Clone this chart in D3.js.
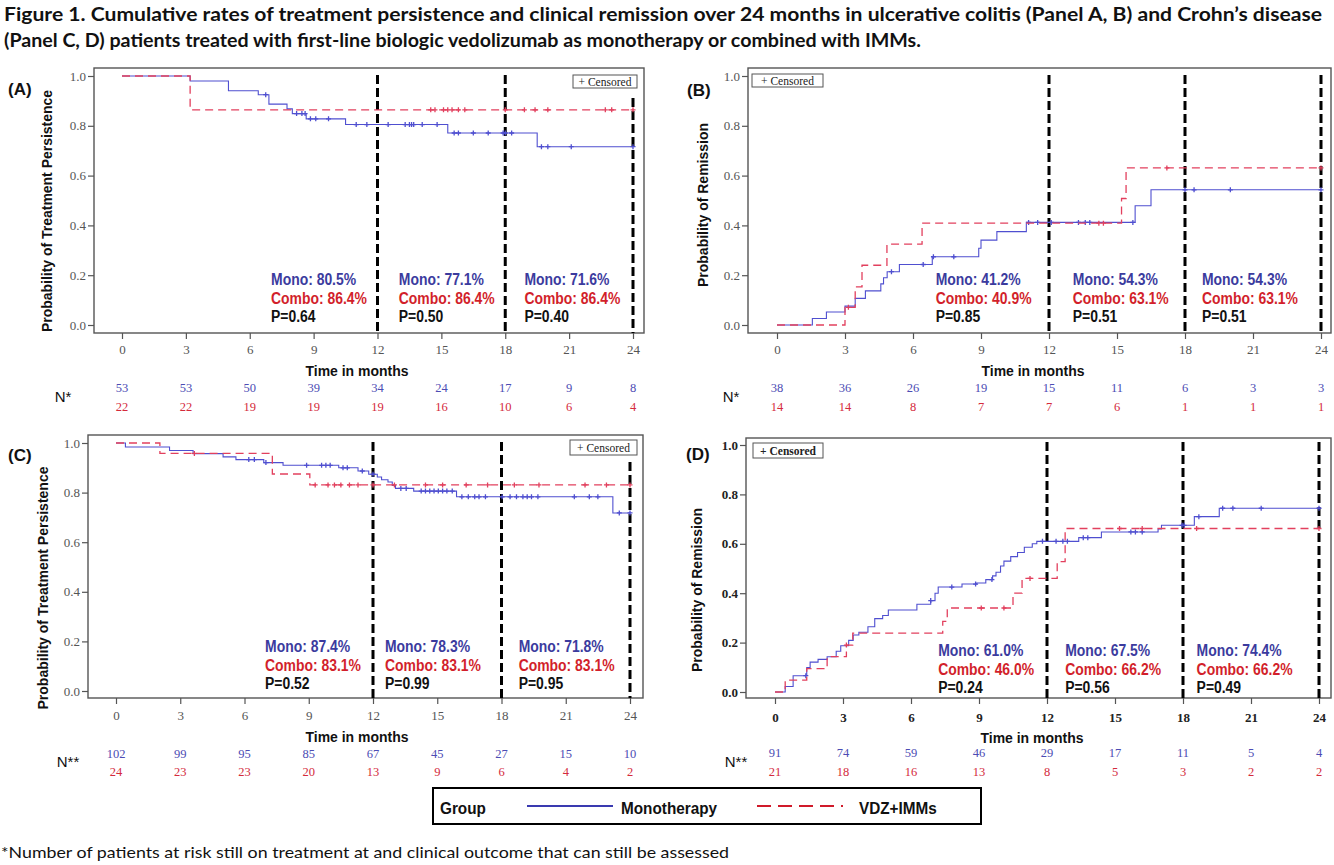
<!DOCTYPE html>
<html><head><meta charset="utf-8">
<script src="https://cdn.jsdelivr.net/npm/d3@7"></script>
<style>body{margin:0;background:#fff} svg{display:block}</style>
</head><body>
<svg id="chart" width="1334" height="865"></svg>
<script>
// ---------------- DATA ----------------
const months = [0, 3, 6, 9, 12, 15, 18, 21, 24];
const probTicks = [0, 0.2, 0.4, 0.6, 0.8, 1.0];
const landmarks = [12, 18, 24];
const groupNames = ["Monotherapy", "VDZ+IMMs"];
const titleLines = [
  "Figure 1. Cumulative rates of treatment persistence and clinical remission over 24 months in ulcerative colitis (Panel A, B) and Crohn\u2019s disease",
  "(Panel C, D) patients treated with first-line biologic vedolizumab as monotherapy or combined with IMMs."
];
const footnote = "*Number of patients at risk still on treatment at and clinical outcome that can still be assessed";

// Panel A – UC persistence
const aMonoSteps = [[0,1],[3.2,0.98],[5.0,0.941],[6.4,0.925],[6.9,0.887],[7.75,0.868],[8.0,0.849],[8.65,0.828],[10.5,0.805],[15.3,0.771],[19.5,0.716]];
const aMonoCensor = [6.75,8.2,8.45,8.6,8.85,9.1,9.7,11.0,11.5,12.5,13.3,13.5,13.6,13.7,14.1,14.8,15.6,15.8,16.5,17.2,17.9,18.0,18.3,19.7,20.0,21.1,24.0];
const aComboSteps = [[0,1],[3.2,0.864]];
const aComboCensor = [14.5,14.7,15.1,15.3,15.5,15.8,16.1,18.0,18.9,19.4,20.0,22.7,23.0,24.0];
const aRiskMono = [53,53,50,39,34,24,17,9,8];
const aRiskCombo = [22,22,19,19,19,16,10,6,4];
const aMonoPct = ["80.5%","77.1%","71.6%"];
const aComboPct = ["86.4%","86.4%","86.4%"];
const aP = ["0.64","0.50","0.40"];

// Panel B – UC remission
const bMonoSteps = [[0,0],[1.56,0.026],[2.18,0.052],[3.0,0.076],[3.45,0.107],[3.9,0.137],[4.58,0.165],[4.7,0.19],[4.86,0.214],[5.4,0.243],[6.85,0.274],[8.9,0.308],[9.0,0.341],[9.7,0.375],[11.0,0.412],[15.8,0.479],[16.5,0.543]];
const bMonoCensor = [5.05,6.45,6.9,7.8,11.1,11.5,12.1,13.3,13.6,13.8,15.7,18.0,18.4,20.0,24.0];
const bComboSteps = [[0,0],[3.0,0.071],[3.45,0.153],[3.75,0.24],[4.85,0.325],[6.4,0.409],[15.2,0.508],[15.4,0.631]];
const bComboCensor = [3.15,14.2,14.4,17.2,24.0];
const bRiskMono = [38,36,26,19,15,11,6,3,3];
const bRiskCombo = [14,14,8,7,7,6,1,1,1];
const bMonoPct = ["41.2%","54.3%","54.3%"];
const bComboPct = ["40.9%","63.1%","63.1%"];
const bP = ["0.85","0.51","0.51"];

// Panel C – CD persistence
const cMonoSteps = [[0,1],[0.44,0.984],[2.5,0.970],[3.6,0.957],[5.0,0.944],[5.6,0.933],[6.9,0.921],[7.8,0.91],[10.4,0.90],[11.3,0.887],[11.8,0.874],[12.2,0.863],[12.4,0.852],[12.7,0.843],[12.9,0.829],[13.05,0.817],[13.9,0.806],[15.9,0.783],[23.2,0.718]];
const cMonoCensor = [6.2,6.46,7.0,8.9,9.6,9.8,10.0,10.6,10.8,11.5,12.0,13.3,13.55,14.25,14.45,14.65,14.85,15.05,15.25,15.45,15.7,16.15,16.45,16.75,16.95,17.25,18.03,18.4,18.7,19.0,19.2,19.4,19.7,21.4,22.1,22.5,23.5,24.0];
const cComboSteps = [[0,1],[2.05,0.958],[7.3,0.875],[9.05,0.831]];
const cComboCensor = [3.66,9.3,9.9,10.2,10.5,10.9,11.3,12.0,13.0,14.45,15.25,16.35,17.35,18.6,19.75,21.9,22.9,24.0];
const cRiskMono = [102,99,95,85,67,45,27,15,10];
const cRiskCombo = [24,23,23,20,13,9,6,4,2];
const cMonoPct = ["87.4%","78.3%","71.8%"];
const cComboPct = ["83.1%","83.1%","83.1%"];
const cP = ["0.52","0.99","0.95"];

// Panel D – CD remission
const dMonoSteps = [[0,0],[0.45,0.022],[0.8,0.066],[1.4,0.099],[1.55,0.121],[1.9,0.132],[2.3,0.143],[2.7,0.165],[2.9,0.187],[3.25,0.209],[3.45,0.231],[3.7,0.242],[4.1,0.264],[4.4,0.297],[4.75,0.31],[5.0,0.332],[6.26,0.355],[6.87,0.37],[7.06,0.40],[7.2,0.425],[8.25,0.437],[8.9,0.441],[9.3,0.455],[9.6,0.47],[9.75,0.485],[9.95,0.51],[10.1,0.53],[10.4,0.548],[10.7,0.565],[11.0,0.586],[11.35,0.6],[11.55,0.61],[13.4,0.625],[14.4,0.648],[16.9,0.66],[17.05,0.675],[18.5,0.71],[19.6,0.744]];
const dMonoCensor = [1.36,6.87,7.8,8.85,9.57,11.8,12.4,12.7,12.9,13.6,13.8,15.7,15.9,16.2,17.96,18.05,18.7,19.75,20.2,21.45,24.0];
const dComboSteps = [[0,0],[0.45,0.048],[1.4,0.095],[2.3,0.143],[3.15,0.19],[3.43,0.238],[7.4,0.286],[7.6,0.34],[10.5,0.40],[10.9,0.46],[12.45,0.528],[12.8,0.662]];
const dComboCensor = [3.15,9.1,10.1,11.25,15.2,16.2,18.6,24.0];
const dRiskMono = [91,74,59,46,29,17,11,5,4];
const dRiskCombo = [21,18,16,13,8,5,3,2,2];
const dMonoPct = ["61.0%","67.5%","74.4%"];
const dComboPct = ["46.0%","66.2%","66.2%"];
const dP = ["0.24","0.56","0.49"];

// ---------------- STYLE ----------------
const lineBlue = "#4f4fd0", lineRed = "#e2405e";
const txtBlue = "#3b3b9e", txtRed = "#d21f2b";
const riskBlue = "#4c4cb4", riskRed = "#d42a3c";
const SANS = "'Liberation Sans', Arial, sans-serif";
const SERIF = "'Liberation Serif', 'Times New Roman', serif";
const TITLEF = "Lato, 'Open Sans', sans-serif";

const svg = d3.select("#chart");

function squeeze(sel, f) {
  sel.each(function () {
    const L = this.getComputedTextLength();
    this.setAttribute("textLength", L * f);
    this.setAttribute("lengthAdjust", "spacingAndGlyphs");
  });
}
function fitLen(sel, w) {
  sel.attr("textLength", w).attr("lengthAdjust", "spacingAndGlyphs");
}
function stepValue(steps, t) {
  let v = steps[0][1];
  for (const s of steps) if (s[0] <= t) v = s[1];
  return v;
}

// ---------------- TITLE ----------------
const t1 = svg.append("text").attr("x", 4).attr("y", 21).text(titleLines[0])
  .attr("font-family", TITLEF).attr("font-weight", 700)
  .attr("font-size", 18).attr("fill", "#111");
const t2 = svg.append("text").attr("x", 4).attr("y", 47).text(titleLines[1])
  .attr("font-family", TITLEF).attr("font-weight", 700)
  .attr("font-size", 18).attr("fill", "#111");
const titleScale = 1318 / t1.node().getComputedTextLength();
t2.call(fitLen, t2.node().getComputedTextLength() * titleScale * 0.93);
t1.call(fitLen, 1318);

// ---------------- PANELS ----------------
function drawPanel(p) {
  const g = svg.append("g");
  const x = d3.scaleLinear().domain([0, 24]).range([p.xr0, p.xr1]);
  const y = d3.scaleLinear().domain([0, 1]).range([p.yBot, p.yTop]);
  const tickFont = p.bold ? "bold" : "normal";
  const tickFill = p.bold ? "#222" : "#555";

  // frame
  g.append("rect").attr("x", p.fx0).attr("y", p.fy0)
    .attr("width", p.fx1 - p.fx0).attr("height", p.fy1 - p.fy0)
    .attr("fill", "none").attr("stroke", "#555").attr("stroke-width", 1.4);

  // y axis
  const ya = g.append("g").attr("transform", `translate(${p.fx0},0)`)
    .call(d3.axisLeft(y).tickValues(probTicks).tickFormat(d3.format(".1f")).tickSize(6).tickPadding(2));
  ya.select(".domain").remove();
  ya.selectAll("line").attr("stroke", "#555").attr("stroke-width", 1.2);
  ya.selectAll("text").attr("font-family", SERIF).attr("font-size", 13)
    .attr("font-weight", tickFont).attr("fill", tickFill);

  // x axis
  const xa = g.append("g").attr("transform", `translate(0,${p.fy1})`)
    .call(d3.axisBottom(x).tickValues(months).tickSize(6).tickPadding(p.tickPad));
  xa.select(".domain").remove();
  xa.selectAll("line").attr("stroke", "#555").attr("stroke-width", 1.2);
  xa.selectAll("text").attr("font-family", SERIF).attr("font-size", 13)
    .attr("font-weight", tickFont).attr("fill", tickFill);

  // landmark dashed lines
  g.selectAll(".lm").data(landmarks).join("line")
    .attr("x1", d => x(d)).attr("x2", d => x(d))
    .attr("y1", d => d === 24 ? p.vTop24 : p.vTop).attr("y2", p.fy1)
    .attr("stroke", "#000").attr("stroke-width", 3).attr("stroke-dasharray", "9,4");

  // curves
  const line = d3.line().x(d => x(d[0])).y(d => y(d[1])).curve(d3.curveStepAfter);
  const series = [
    { steps: p.mono, cens: p.monoC, color: lineBlue, dash: null, w: 1.1 },
    { steps: p.combo, cens: p.comboC, color: lineRed, dash: "8,5", w: 1.3 }
  ];
  series.forEach(s => {
    const pts = s.steps.concat([[24, s.steps[s.steps.length - 1][1]]]);
    g.append("path").datum(pts).attr("d", line).attr("fill", "none")
      .attr("stroke", s.color).attr("stroke-width", s.w)
      .attr("stroke-dasharray", s.dash);
    g.selectAll(null).data(s.cens).join("path")
      .attr("d", t => {
        const cx = x(t), cy = y(stepValue(s.steps, t));
        return `M${cx - 2.5},${cy}H${cx + 2.5}M${cx},${cy - 2.5}V${cy + 2.5}`;
      })
      .attr("stroke", s.color).attr("stroke-width", 1.3);
  });

  // censored legend box
  g.append("rect").attr("x", p.cb[0]).attr("y", p.cb[1]).attr("width", p.cb[2]).attr("height", p.cb[3])
    .attr("fill", "#fff").attr("stroke", "#555").attr("stroke-width", 1);
  g.append("text").attr("x", p.cb[0] + p.cb[2] / 2).attr("y", p.cb[1] + p.cb[3] / 2 + 4)
    .attr("text-anchor", "middle").attr("font-family", SERIF).attr("font-size", 11.5)
    .attr("font-weight", tickFont).attr("fill", "#222").text("+ Censored");

  // annotations
  [0, 1, 2].forEach(i => {
    const ax = x(p.annT[i]);
    g.append("text").attr("x", ax).attr("y", p.annY + 6).text("Mono: " + p.monoPct[i])
      .attr("font-family", SANS).attr("font-weight", "bold").attr("font-size", 16).attr("fill", txtBlue).call(squeeze, 0.87);
    g.append("text").attr("x", ax).attr("y", p.annY + 25).text("Combo: " + p.comboPct[i])
      .attr("font-family", SANS).attr("font-weight", "bold").attr("font-size", 16).attr("fill", txtRed).call(squeeze, 0.87);
    g.append("text").attr("x", ax).attr("y", p.annY + 43).text("P=" + p.pv[i])
      .attr("font-family", SANS).attr("font-weight", "bold").attr("font-size", 16).attr("fill", "#111").call(squeeze, 0.87);
  });

  // panel label
  g.append("text").attr("x", p.lab[0]).attr("y", p.lab[1] + 6).text(p.label)
    .attr("font-family", SANS).attr("font-weight", "bold").attr("font-size", 17).attr("fill", "#111");

  // y title
  g.append("text").attr("transform", `translate(${p.yt[0] + 5},${p.yt[1]}) rotate(-90)`)
    .attr("text-anchor", "middle").text(p.ytitle)
    .attr("font-family", SANS).attr("font-weight", "bold").attr("font-size", 15).attr("fill", "#111")
    .call(fitLen, p.yt[2]);

  // x title
  g.append("text").attr("x", p.xt[0]).attr("y", p.xt[1] + 5).attr("text-anchor", "middle")
    .text("Time in months").attr("font-family", SANS).attr("font-weight", "bold")
    .attr("font-size", 15).attr("fill", "#111").call(fitLen, 103);

  // at-risk numbers
  g.selectAll(null).data(p.riskM).join("text")
    .attr("x", (d, i) => x(months[i])).attr("y", p.risk[0] + 4.5).attr("text-anchor", "middle")
    .attr("font-family", SERIF).attr("font-size", 12.5).attr("fill", riskBlue).text(d => d);
  g.selectAll(null).data(p.riskC).join("text")
    .attr("x", (d, i) => x(months[i])).attr("y", p.risk[1] + 4.5).attr("text-anchor", "middle")
    .attr("font-family", SERIF).attr("font-size", 12.5).attr("fill", riskRed).text(d => d);
  g.append("text").attr("x", p.nl[0]).attr("y", p.nl[1] + 5).attr("text-anchor", "middle")
    .text(p.nLabel).attr("font-family", SANS).attr("font-size", 15).attr("fill", "#111");
}

drawPanel({
  fx0: 94, fx1: 644, fy0: 68, fy1: 333, xr0: 122, xr1: 633, yTop: 76, yBot: 325,
  tickPad: 6, vTop: 75, vTop24: 98, cb: [573, 75, 64, 13],
  mono: aMonoSteps, monoC: aMonoCensor, combo: aComboSteps, comboC: aComboCensor,
  monoPct: aMonoPct, comboPct: aComboPct, pv: aP, annT: [7, 13, 18.9], annY: 279,
  label: "(A)", lab: [8, 89], ytitle: "Probability of Treatment Persistence", yt: [47, 211, 242],
  xt: [357, 371], riskM: aRiskMono, riskC: aRiskCombo, risk: [387, 406], nLabel: "N*", nl: [63, 397]
});
drawPanel({
  fx0: 748, fx1: 1331, fy0: 68, fy1: 333, xr0: 777, xr1: 1321, yTop: 76, yBot: 325,
  tickPad: 6, vTop: 75, vTop24: 75, cb: [752, 74, 71, 13],
  mono: bMonoSteps, monoC: bMonoCensor, combo: bComboSteps, comboC: bComboCensor,
  monoPct: bMonoPct, comboPct: bComboPct, pv: bP, annT: [7, 13.05, 18.75], annY: 279,
  label: "(B)", lab: [687, 90], ytitle: "Probability of Remission", yt: [703, 205, 164],
  xt: [1033, 371], riskM: bRiskMono, riskC: bRiskCombo, risk: [387, 406], nLabel: "N*", nl: [731, 397]
});
drawPanel({
  fx0: 88, fx1: 643, fy0: 435, fy1: 698, xr0: 116, xr1: 630, yTop: 443, yBot: 691,
  tickPad: 7, vTop: 442, vTop24: 462, cb: [570, 440, 67, 15],
  mono: cMonoSteps, monoC: cMonoCensor, combo: cComboSteps, comboC: cComboCensor,
  monoPct: cMonoPct, comboPct: cComboPct, pv: cP, annT: [6.96, 12.56, 18.8], annY: 646,
  label: "(C)", lab: [8, 455], ytitle: "Probability of Treatment Persistence", yt: [43, 588, 243],
  xt: [357, 737], riskM: cRiskMono, riskC: cRiskCombo, risk: [753, 771], nLabel: "N**", nl: [68, 762]
});
drawPanel({
  fx0: 746, fx1: 1331, fy0: 438, fy1: 698, xr0: 775, xr1: 1319, yTop: 445, yBot: 692,
  tickPad: 9, vTop: 442, vTop24: 442, cb: [753, 443, 70, 15], bold: true,
  mono: dMonoSteps, monoC: dMonoCensor, combo: dComboSteps, comboC: dComboCensor,
  monoPct: dMonoPct, comboPct: dComboPct, pv: dP, annT: [7.2, 12.8, 18.6], annY: 650,
  label: "(D)", lab: [686, 454], ytitle: "Probability of Remission", yt: [697, 590, 164],
  xt: [1032, 738], riskM: dRiskMono, riskC: dRiskCombo, risk: [752, 771], nLabel: "N**", nl: [736, 762]
});

// ---------------- LEGEND ----------------
const lg = svg.append("g");
lg.append("rect").attr("x", 433).attr("y", 788).attr("width", 548).attr("height", 36)
  .attr("fill", "#fff").attr("stroke", "#000").attr("stroke-width", 2);
lg.append("text").attr("x", 440).attr("y", 814).text("Group")
  .attr("font-family", SANS).attr("font-weight", "bold").attr("font-size", 17).attr("fill", "#111").call(squeeze, 0.9);
const legItems = [
  { name: groupNames[0], color: "#3a3ab0", dash: null, lx: 527, tx: 621 },
  { name: groupNames[1], color: "#d01a2a", dash: "14,7", lx: 757, tx: 859 }
];
legItems.forEach(it => {
  lg.append("line").attr("x1", it.lx).attr("x2", it.lx + 86).attr("y1", 806).attr("y2", 806)
    .attr("stroke", it.color).attr("stroke-width", 2).attr("stroke-dasharray", it.dash);
  lg.append("text").attr("x", it.tx).attr("y", 814).text(it.name)
    .attr("font-family", SANS).attr("font-weight", "bold").attr("font-size", 17).attr("fill", "#111").call(squeeze, 0.9);
});

// ---------------- FOOTNOTE ----------------
svg.append("text").attr("x", 1).attr("y", 858).text(footnote)
  .attr("font-family", TITLEF).attr("font-size", 16).attr("fill", "#111")
  .call(fitLen, 728);
</script>
</body></html>
